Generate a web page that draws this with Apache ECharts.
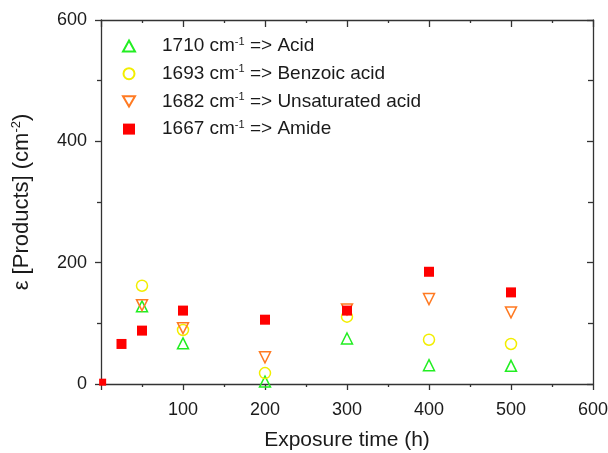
<!DOCTYPE html>
<html><head><meta charset="utf-8">
<script src="https://cdn.jsdelivr.net/npm/echarts@6/dist/echarts.min.js"></script>
<style>html,body{margin:0;padding:0;background:#fff}#c{width:608px;height:453px}</style>
</head><body><div id="c"></div>
<script>
const wavenumbers = ['1710', '1693', '1682', '1667'];
const products = ['Acid', 'Benzoic acid', 'Unsaturated acid', 'Amide'];
const xTicks = [0, 100, 200, 300, 400, 500, 600];
const yTicks = [0, 200, 400, 600];
const acid = [[50, 128], [100, 67], [200, 4], [300, 75], [400, 31], [500, 30]];
const benzoic = [[50, 162], [100, 89], [200, 18], [300, 111], [400, 73], [500, 66]];
const unsaturated = [[50, 130], [100, 92], [200, 44], [300, 123], [400, 140], [500, 118]];
const amide = [[2, 3], [25, 66], [50, 88], [100, 121], [200, 106], [300, 121], [400, 185], [500, 151]];

const font = 'Liberation Sans, Arial, sans-serif';
const axisColor = '#333';
const textColor = '#1a1a1a';
const legendMap = {};
wavenumbers.forEach((w, i) => { legendMap[w] = '{a|' + w + ' cm}{s|-1}{a| => ' + products[i] + '}'; });
const colors = ['#22ee22', '#f2ee00', '#ff7a22', '#ff0000'];
const downTri = 'path://M0,0L12,0L6,10.4Z';

const chart = echarts.init(document.getElementById('c'));
const baseX = {
  type: 'value', min: xTicks[0], max: xTicks[xTicks.length - 1], interval: xTicks[1] - xTicks[0],
  splitLine: { show: false }, minorSplitLine: { show: false },
  axisLine: { onZero: false, lineStyle: { color: axisColor, width: 1.3 } }
};
const baseY = {
  type: 'value', min: yTicks[0], max: yTicks[yTicks.length - 1], interval: yTicks[1] - yTicks[0],
  splitLine: { show: false }, minorSplitLine: { show: false },
  axisLine: { onZero: false, lineStyle: { color: axisColor, width: 1.3 } }
};
const mk = (name, data, symbol, color, filled, rotate) => ({
  name: name, type: 'scatter', data: data, symbol: symbol, symbolRotate: rotate || 0,
  symbolSize: filled ? (v => v[0] < 10 ? 7 : 10) : 11,
  xAxisIndex: 0, yAxisIndex: 0,
  itemStyle: filled ? { color: color, opacity: 1 } : { color: 'rgba(255,255,255,0)', borderColor: color, borderWidth: 1.5, opacity: 1 },
  emphasis: { disabled: true }
});
chart.setOption({
  animation: false,
  backgroundColor: '#fff',
  textStyle: { fontFamily: font },
  grid: { left: 101, right: 15, top: 20, bottom: 69, containLabel: false, outerBoundsMode: 'none' },
  legend: {
    orient: 'vertical', left: 117, top: 31, itemWidth: 12, itemHeight: 11, itemGap: 7.7,
    selectedMode: false,
    data: [
      { name: wavenumbers[0], icon: 'triangle' },
      { name: wavenumbers[1], icon: 'circle' },
      { name: wavenumbers[2], icon: downTri },
      { name: wavenumbers[3], icon: 'rect' }
    ],
    formatter: n => legendMap[n],
    textStyle: {
      padding: [0, 0, 0, 22],
      rich: {
        a: { fontSize: 19, color: textColor, fontFamily: font, lineHeight: 20 },
        s: { fontSize: 11, color: textColor, fontFamily: font, lineHeight: 20, verticalAlign: 'top', padding: [0, 0, 9, 0] }
      }
    }
  },
  xAxis: [
    Object.assign({}, baseX, {
      position: 'bottom',
      name: 'Exposure time (h)', nameLocation: 'middle', nameGap: 46,
      nameTextStyle: { fontSize: 21, color: textColor, fontFamily: font },
      axisTick: { show: true, inside: false, length: 6, lineStyle: { color: axisColor, width: 1.3 } },
      minorTick: { show: true, splitNumber: 2, length: 3, lineStyle: { color: axisColor, width: 1.3 } },
      axisLabel: { fontSize: 18, color: textColor, margin: 17, fontFamily: font, formatter: v => (v === 0 ? '' : String(v)) }
    }),
    Object.assign({}, baseX, {
      position: 'top',
      axisTick: { show: true, inside: true, length: 7, lineStyle: { color: axisColor, width: 1.3 } },
      minorTick: { show: true, splitNumber: 2, length: 3, lineStyle: { color: axisColor, width: 1.3 } },
      axisLabel: { show: false }
    })
  ],
  yAxis: [
    Object.assign({}, baseY, {
      position: 'left',
      name: 'ε [Products] (cm{s|-2})', nameLocation: 'middle', nameGap: 68,
      nameTextStyle: {
        fontSize: 22, color: textColor, fontFamily: font,
        rich: { s: { fontSize: 13, color: textColor, fontFamily: font, verticalAlign: 'top', padding: [0, 0, 10, 0] } }
      },
      axisTick: { show: true, inside: false, length: 6, lineStyle: { color: axisColor, width: 1.3 } },
      minorTick: { show: true, splitNumber: 2, length: 4, lineStyle: { color: axisColor, width: 1.3 } },
      axisLabel: { fontSize: 18, color: textColor, margin: 14, fontFamily: font }
    }),
    Object.assign({}, baseY, {
      position: 'right',
      axisTick: { show: true, inside: true, length: 6, lineStyle: { color: axisColor, width: 1.3 } },
      minorTick: { show: true, splitNumber: 2, length: 5, lineStyle: { color: axisColor, width: 1.3 } },
      axisLabel: { show: false }
    })
  ],
  series: [
    mk(wavenumbers[0], acid, 'triangle', colors[0], false, 0),
    mk(wavenumbers[1], benzoic, 'circle', colors[1], false, 0),
    mk(wavenumbers[2], unsaturated, 'triangle', colors[2], false, 180),
    mk(wavenumbers[3], amide, 'rect', colors[3], true, 0)
  ]
});
</script></body></html>
